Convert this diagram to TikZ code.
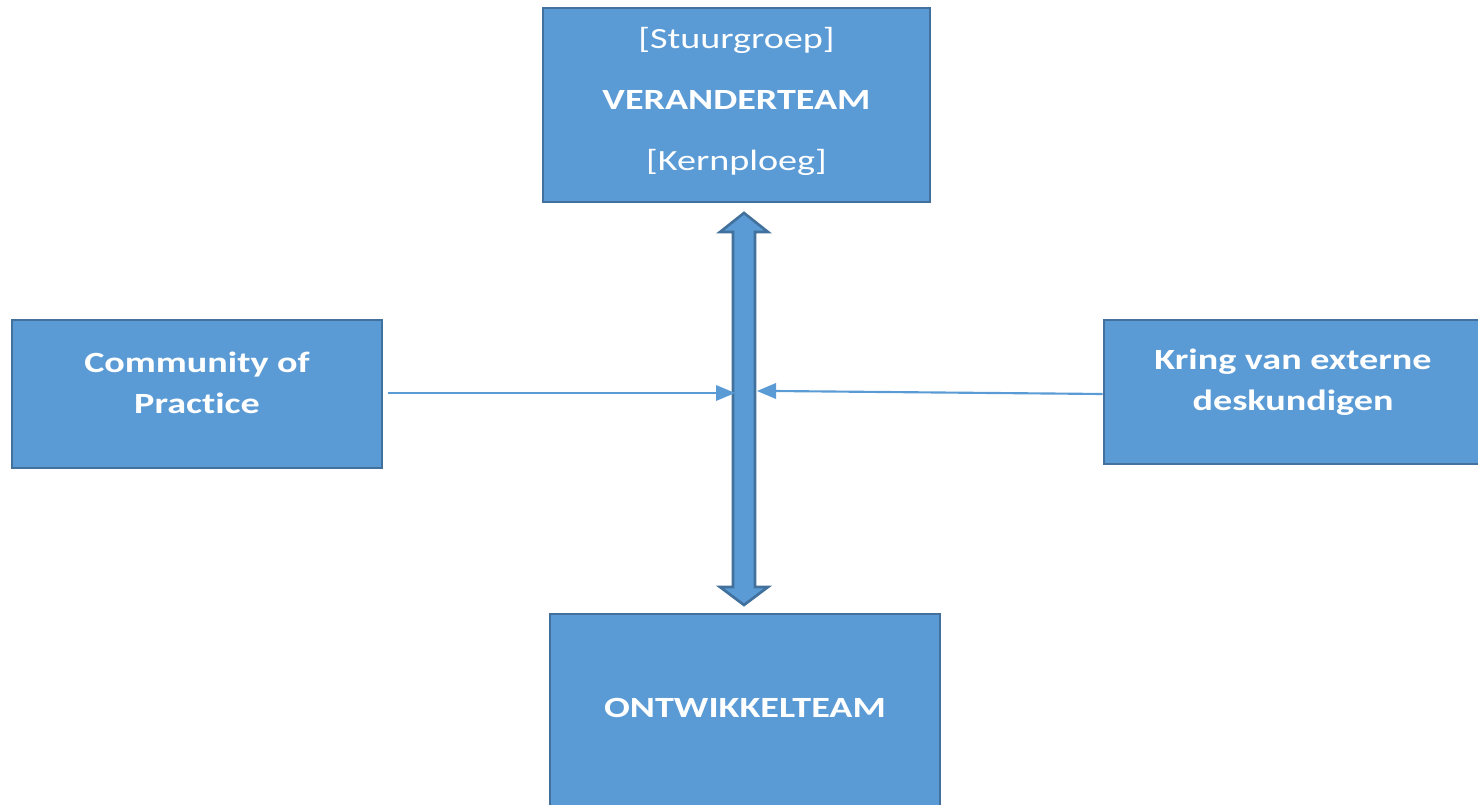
\documentclass[tikz,border=0pt]{standalone}
\usepackage{fontspec}
\setmainfont{Carlito}[FakeStretch=1.3,Ligatures={NoCommon,NoDiscretionary,NoContextual}]
\definecolor{boxfill}{HTML}{5B9BD5}
\definecolor{boxline}{HTML}{41719C}
\begin{document}
\begin{tikzpicture}[x=0.75pt,y=-0.75pt,
  box/.style={draw=boxline,fill=boxfill,line width=2pt,inner sep=0pt},
  txt/.style={text=white,align=center,font=\fontsize{22pt}{30.75pt}\selectfont,inner sep=0pt},
  btxt/.style={txt,font=\fontsize{22pt}{30.75pt}\selectfont\bfseries},
  thinarrow/.style={draw=boxfill,line width=1.6pt},
  headfill/.style={fill=boxfill}]
\useasboundingbox (0,0) rectangle (1478,805);
\begin{scope}
\clip (0,0) rectangle (1478,805);
% boxes
\node[box,minimum width=387*0.75pt,minimum height=194*0.75pt] (top) at (736.5,105) {};
\node[box,minimum width=370*0.75pt,minimum height=148*0.75pt] (cop) at (197,394) {};
\node[box,minimum width=380*0.75pt,minimum height=144*0.75pt] (ext) at (1294,392) {};
\node[box,minimum width=390*0.75pt,minimum height=196*0.75pt] (bot) at (745,712) {};
% texts
\node[txt] (t1) at (736.5,40) {[Stuurgroep]};
\node[btxt] (t2) at (736.5,100) {VERANDERTEAM};
\node[txt] (t3) at (736.5,162) {[Kernploeg]};
\node[btxt] (copt) at (197,382.5) {Community of\\Practice};
\node[btxt] (extt) at (1293,382.5) {Kring van externe\\deskundigen};
\node[btxt] (bott) at (745,708) {ONTWIKKELTEAM};
% block double arrow between top and bot
\coordinate (at) at (744,213);
\coordinate (ab) at (744,605);
\draw[box,line join=miter] (at) -- ([shift={(24,19)}]at) -- ([shift={(11,19)}]at)
  -- ([shift={(11,-18)}]ab) -- ([shift={(24,-18)}]ab) -- (ab)
  -- ([shift={(-24,-18)}]ab) -- ([shift={(-11,-18)}]ab)
  -- ([shift={(-11,19)}]at) -- ([shift={(-24,19)}]at) -- cycle;
% thin arrows
\coordinate (lt) at (735,393);
\coordinate (rt) at (757,391);
\draw[thinarrow] ([xshift=5*0.75pt]cop.east |- 0,393) -- ([xshift=-17*0.75pt]lt);
\fill[headfill] (lt) -- ++(-19,-8) -- ++(0,16) -- cycle;
\draw[thinarrow] (ext.west |- 0,394) -- ([xshift=17*0.75pt]rt);
\fill[headfill] (rt) -- ++(19,-8) -- ++(0,16) -- cycle;
\end{scope}
\end{tikzpicture}
\end{document}
